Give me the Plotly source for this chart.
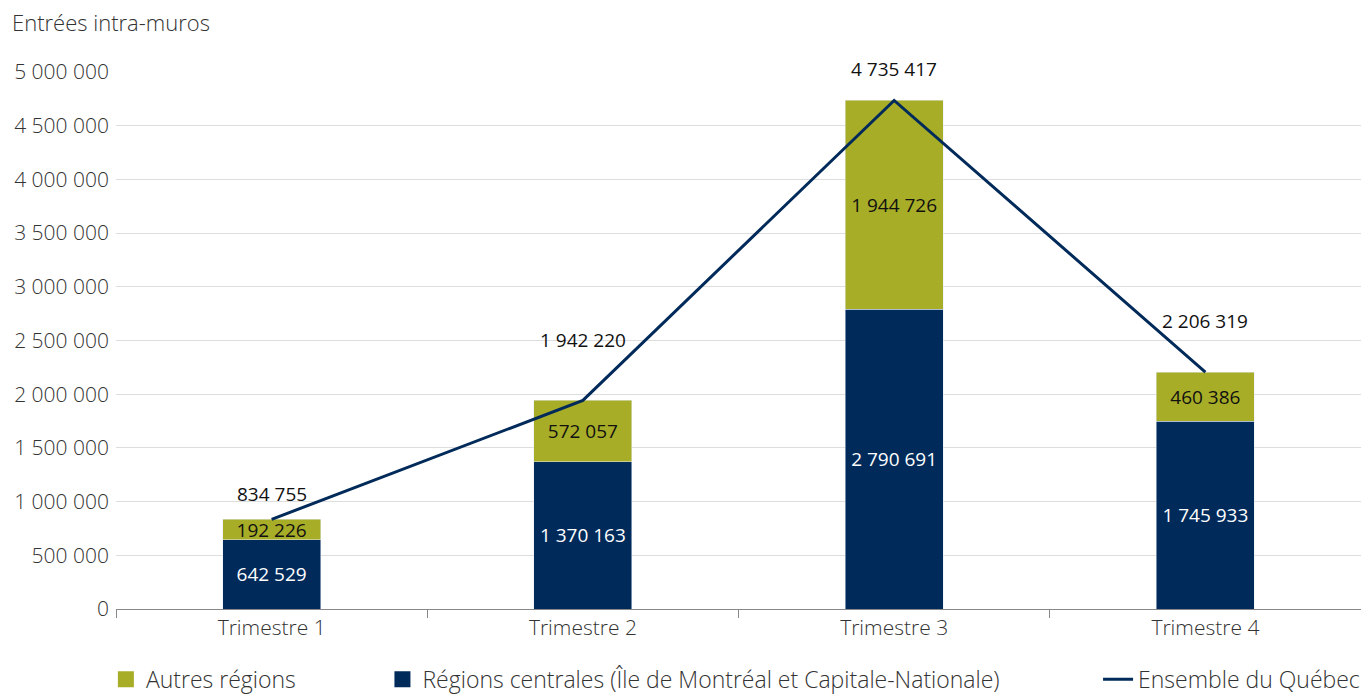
import plotly.graph_objects as go

categories = ["Trimestre 1", "Trimestre 2", "Trimestre 3", "Trimestre 4"]
centrales = [642529, 1370163, 2790691, 1745933]
autres = [192226, 572057, 1944726, 460386]
ensemble = [834755, 1942220, 4735417, 2206319]

label_shift = [25, 60, 31, 51]

NAVY = "#002a5a"
OLIVE = "#a8ad28"
FONT = "Open Sans"
TXT = "#333333"

def fmt(v):
    return f"{v:,}".replace(",", " ")

fig = go.Figure()
fig.add_trace(go.Bar(
    x=categories, y=centrales, name="Régions centrales (Île de Montréal et Capitale-Nationale)",
    marker=dict(color=NAVY), width=0.315,
    text=[fmt(v) for v in centrales], textposition="inside", insidetextanchor="middle",
    textfont=dict(color="white", size=19, family=FONT),
    showlegend=False, hoverinfo="skip"))
fig.add_trace(go.Bar(
    x=categories, y=autres, name="Autres régions",
    marker=dict(color=OLIVE), width=0.315,
    text=[fmt(v) for v in autres], textposition="inside", insidetextanchor="middle",
    textfont=dict(color="#111111", size=19, family=FONT),
    showlegend=False, hoverinfo="skip"))
fig.add_trace(go.Scatter(
    x=categories, y=ensemble, name="Ensemble du Québec", mode="lines",
    line=dict(color=NAVY, width=3), legend="legend3", hoverinfo="skip"))

# legend entries with larger square swatches
fig.add_trace(go.Scatter(x=[None], y=[None], mode="markers", name="Autres régions",
                         marker=dict(symbol="square", size=16, color=OLIVE), legend="legend"))
fig.add_trace(go.Scatter(x=[None], y=[None], mode="markers",
                         name="Régions centrales (Île de Montréal et Capitale-Nationale)",
                         marker=dict(symbol="square", size=16, color=NAVY), legend="legend2"))

for c, v, s in zip(categories, ensemble, label_shift):
    fig.add_annotation(x=c, y=v, text=fmt(v), showarrow=False, yshift=s,
                       font=dict(size=19, color="#111111", family=FONT))

fig.add_annotation(xref="paper", yref="paper", x=-0.0851, y=1.094, xanchor="left", yanchor="middle",
                   text="Entrées intra-muros", showarrow=False,
                   font=dict(size=22, color=TXT, family=FONT, weight=300))

legfont = dict(size=23, color=TXT, family=FONT, weight=300)
axfont = dict(size=21, color=TXT, family=FONT, weight=300)
fig.update_layout(
    barmode="stack",
    width=1361, height=696,
    margin=dict(l=116, r=0, t=72, b=87),
    paper_bgcolor="white", plot_bgcolor="white",
    separators=", ",
    font=dict(family=FONT, size=18, color=TXT),
    uniformtext=dict(minsize=19, mode="show"),
    xaxis=dict(showline=True, linecolor="#888888", linewidth=1, ticks="outside", tickson="boundaries",
               ticklen=8, tickcolor="#888888", tickfont=axfont, showgrid=False, automargin=False),
    yaxis=dict(range=[0, 5000000], dtick=500000, showgrid=True, gridcolor="#dddddd", gridwidth=1,
               zeroline=False, tickformat=",d", tickfont=axfont, automargin=False,
               ticklabelstandoff=6),
    legend=dict(orientation="h", xref="container", yref="container", x=0.0778, xanchor="left",
                y=0.024, yanchor="middle", font=legfont),
    legend2=dict(orientation="h", xref="container", yref="container", x=0.2810, xanchor="left",
                 y=0.024, yanchor="middle", font=legfont),
    legend3=dict(orientation="h", xref="container", yref="container", x=0.8068, xanchor="left",
                 y=0.024, yanchor="middle", font=legfont),
    showlegend=True,
)
fig.update_traces(cliponaxis=False, selector=dict(type="bar"))
fig.update_traces(cliponaxis=False, selector=dict(type="scatter"))
fig.write_html("out.html", config={"displayModeBar": False},
               post_script="document.body.style.margin='0';")
